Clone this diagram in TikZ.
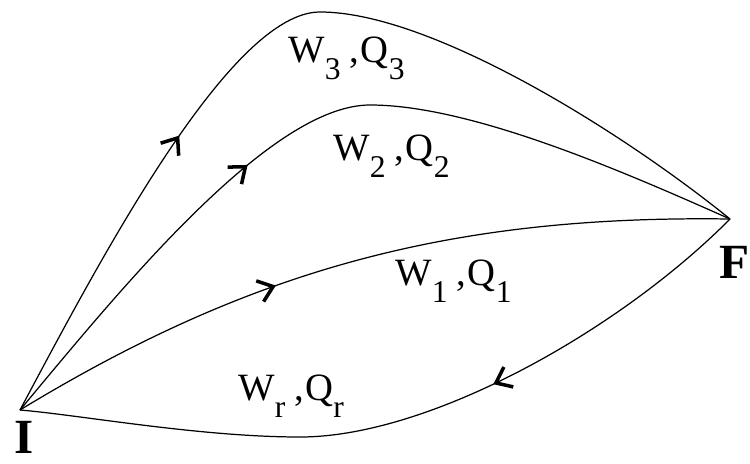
\documentclass[tikz,border=0pt]{standalone}
\usepackage{fontspec}
\setmainfont{Liberation Serif}
\usetikzlibrary{arrows.meta,decorations.markings}

\newcommand{\bajo}[1]{\raisebox{-10pt}{\fontsize{18}{18}\selectfont #1}}
\newcommand{\wq}[1]{W\bajo{#1}\hspace{5pt},\hspace{1pt}Q\bajo{#1}}

\begin{document}
\begin{tikzpicture}[
    x=0.02cm, y=-0.02cm,
    proceso/.style={line width=0.7pt},
    flechaen/.style={postaction={decorate}, decoration={markings,
        mark=at position #1 with {\arrow{Straight Barb[length=2.8mm,width=4.4mm,line width=2pt]}}}},
    rotulo/.style={font=\fontsize{22}{26}\selectfont, anchor=base west, inner sep=0pt},
    extremo/.style={font=\fontsize{28}{32}\selectfont\bfseries, anchor=north, inner sep=0pt}
]
\useasboundingbox (0,0) rectangle (750,463);

\coordinate (I) at (20,410);
\coordinate (F) at (730,219);
\coordinate (cima3) at (320,12);
\coordinate (cima2) at (370,105);
\coordinate (fondo) at (300,437);

\draw[proceso, flechaen=6.35cm] (I) .. controls (100,260) and (230,12) .. (cima3)
    .. controls (430,12) and (620,130) .. (F);
\draw[proceso, flechaen=6.7cm] (I) .. controls (120,290) and (270,105) .. (cima2)
    .. controls (470,105) and (620,170) .. (F);
\draw[proceso, flechaen=5.7cm] (I) .. controls (250,270) and (450,215) .. (F);
\draw[proceso, flechaen=5.8cm] (F) .. controls (620,330) and (430,437) .. (fondo)
    .. controls (200,437) and (80,415) .. (I);

\node[rotulo] (lab3) at (288,62)  {\wq{3}};
\node[rotulo] (lab2) at (333,160) {\wq{2}};
\node[rotulo] (lab1) at (395,285) {\wq{1}};
\node[rotulo] (labr) at (238,400) {\wq{r}};

\node[extremo] (ini) at (24,421) {I};
\node[extremo] (fin) at (735,246) {F};

\end{tikzpicture}
\end{document}
